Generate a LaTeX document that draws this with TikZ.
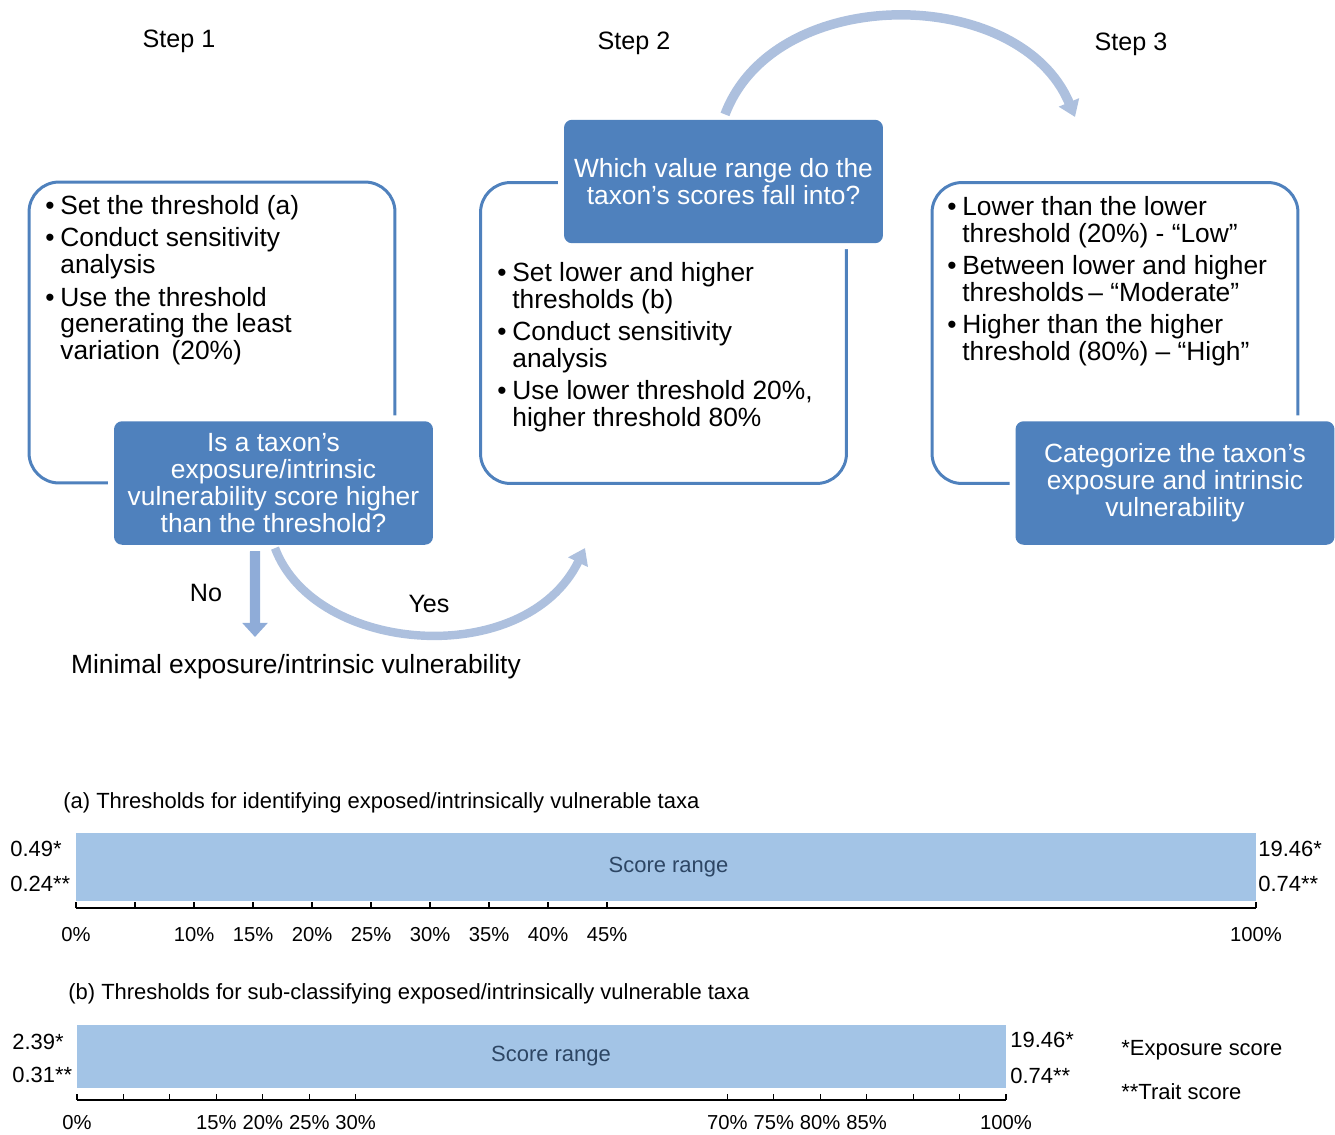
\documentclass[tikz,border=0pt]{standalone}
\usepackage{fontspec}
\setmainfont{Liberation Sans}
\usetikzlibrary{arrows.meta}

\definecolor{boxblue}{RGB}{79,129,189}
\definecolor{arrowblue}{RGB}{143,172,216}
\definecolor{curveblue}{RGB}{173,192,222}
\definecolor{barblue}{RGB}{163,196,230}
\definecolor{labelgray}{RGB}{45,70,100}

\newcommand\mainsize{\fontsize{15}{15.3}\selectfont}
\newcommand\stepsize{\fontsize{14.3}{16}\selectfont}
\newcommand\chartsize{\fontsize{12.5}{14}\selectfont}
\newcommand\ticksize{\fontsize{11.5}{13}\selectfont}
\newcommand\bul{\makebox[0.3cm][l]{\textbullet}}
\newcommand\ind{\makebox[0.3cm]{}}

\tikzset{
  stepframe/.style={draw=boxblue, line width=1.7pt, rounded corners=0.6cm,
    minimum width=7.32cm, minimum height=6.02cm},
  question/.style={fill=boxblue, text=white, rounded corners=0.16cm,
    minimum width=6.38cm, minimum height=2.47cm, align=center, inner sep=0pt,
    font=\mainsize, preaction={draw=white, line width=6.8pt}},
  noarrow/.style={draw=arrowblue, line width=5.7pt,
    -{Triangle[width=14pt,length=8pt]}},
  bendarrow/.style={draw=curveblue, line width=4.8pt,
    -{Triangle[width=12pt,length=9pt]}},
  scorebar/.style={fill=barblue, text=labelgray, font=\chartsize, inner sep=0pt},
  axisline/.style={draw=black, line width=0.6pt},
}

\begin{document}
\begin{tikzpicture}[x=0.02cm,y=-0.02cm]
   \useasboundingbox (0,0) rectangle (1335,1134);
   \begin{scope}[every node/.style={font=\stepsize}]
    \node (step1) at (179,41) {Step 1};
    \node (step2) at (634,43) {Step 2};
    \node (step3) at (1131,44) {Step 3};
   \end{scope}
   \begin{scope}[every node/.style={stepframe}]
    \node (frameA) at (212,332.5) {};
    \node (frameB) at (663.5,333) {};
    \node (frameC) at (1115,333) {};
   \end{scope}
   \begin{scope}[every node/.style={anchor=north west, inner sep=0pt, align=left, font=\mainsize}]
    \node (listA) at (45,195) {\bul Set the threshold (a)\\[0.11cm]
      \bul Conduct sensitivity\\\ind analysis\\[0.11cm]
      \bul Use the threshold\\\ind generating the least\\\ind variation~\,(20\%)};
    \node (listB) at (497,262) {\bul Set lower and higher\\\ind thresholds (b)\\[0.11cm]
      \bul Conduct sensitivity\\\ind analysis\\[0.11cm]
      \bul Use lower threshold 20\%,\\\ind higher threshold 80\%};
    \node (listC) at (947,196) {\bul Lower than the lower\\\ind threshold (20\%) - “Low”\\[0.11cm]
      \bul Between lower and higher\\\ind thresholds\,– “Moderate”\\[0.11cm]
      \bul Higher than the higher\\\ind threshold (80\%) – “High”};
   \end{scope}
   \begin{scope}[every node/.style={question}]
    \node (questA) at (273.5,483) {Is a taxon’s\\exposure/intrinsic\\vulnerability score higher\\than the threshold?};
    \node (questB) at (723.5,181.5) {Which value range do the\\taxon’s scores fall into?};
    \node (questC) at (1175,483) {Categorize the taxon’s\\exposure and intrinsic\\vulnerability};
   \end{scope}
   \coordinate (noend) at (255,637);
   \coordinate (yesend) at (585,548);
   \coordinate (stepend) at (1075,117);
   \draw[noarrow] ([xshift=-0.37cm,yshift=-0.12cm]questA.south) -- (noend);
   \draw[bendarrow] ([xshift=0.03cm,yshift=-0.06cm]questA.south) .. controls (315,655) and (525,670) .. (yesend);
   \draw[bendarrow, line width=5.4pt] ([xshift=0.03cm,yshift=0.1cm]questB.north) .. controls (775,-18) and (1020,-15) .. (stepend);
   \node[font=\stepsize] (noLabel) at (206,593) {No};
   \node[font=\stepsize] (yesLabel) at (429,604) {Yes};
   \node[font=\mainsize] (minimal) at (296,667) {Minimal~exposure/intrinsic vulnerability};
   \begin{scope}[every node/.style={anchor=west, inner sep=0pt, font=\chartsize}]
    \node (titleA) at (63,803) {(a) Thresholds for identifying exposed/intrinsically vulnerable taxa};
    \node (titleB) at (68,994) {(b) Thresholds for sub-classifying exposed/intrinsically vulnerable taxa};
    \node (lowA1) at (10,849) {0.49*};
    \node (lowA2) at (10,884) {0.24**};
    \node (highA1) at (1258,849) {19.46*};
    \node (highA2) at (1258,884) {0.74**};
    \node (lowB1) at (12,1042) {2.39*};
    \node (lowB2) at (12,1075) {0.31**};
    \node (highB1) at (1010,1040) {19.46*};
    \node (highB2) at (1010,1076) {0.74**};
    \node (keyExp) at (1121,1050) {*Exposure score};
    \node (keyTrait) at (1121,1092) {**Trait score};
   \end{scope}
   \node[scorebar, minimum width=23.6cm, minimum height=1.36cm] (barA) at (666,867) {\hspace*{0.1cm}Score range};
   \node[scorebar, minimum width=18.58cm, minimum height=1.26cm] (barB) at (541.5,1056.5) {\hspace*{0.38cm}Score range};
   \draw[axisline] (76,908) -- (1256,908);
   \foreach \p in {0,5,10,15,20,25,30,35,40,45,100}
    \draw[axisline] ({76+11.8*\p},908) -- ++(0,-6);
   \foreach \p in {0,10,15,20,25,30,35,40,45,100}
    \node[font=\ticksize] (tickA\p) at ({76+11.8*\p},935) {\p\%};
   \draw[axisline] (77,1100) -- (1006,1100);
   \foreach \p in {0,5,10,15,20,25,30,70,75,80,85,90,95,100}
    \draw[axisline] ({77+9.29*\p},1100) -- ++(0,-6);
   \foreach \p in {0,15,20,25,30,70,75,80,85,100}
    \node[font=\ticksize] (tickB\p) at ({77+9.29*\p},1123) {\p\%};
\end{tikzpicture}
\end{document}
